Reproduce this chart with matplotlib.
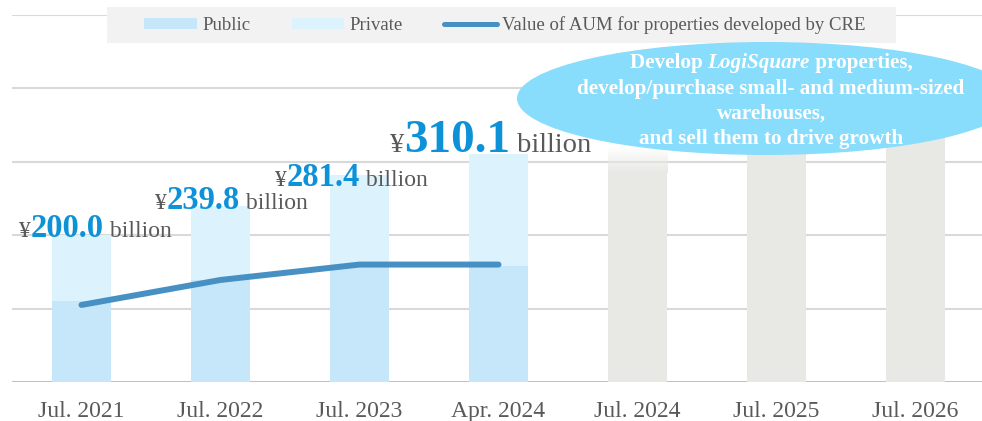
"""
CRE AUM growth chart: public / private split, AUM line and future target bars.
Output: out.png
"""

import numpy as np
import matplotlib
matplotlib.use("Agg")
import matplotlib.pyplot as plt
from matplotlib.patches import Patch, Ellipse, Rectangle
from matplotlib.lines import Line2D
from matplotlib.transforms import IdentityTransform

# ---- data (billion yen) ----
categories = ["Jul. 2021", "Jul. 2022", "Jul. 2023", "Apr. 2024",
              "Jul. 2024", "Jul. 2025", "Jul. 2026"]
total_aum = [200.0, 239.8, 281.4, 310.1]
public_aum = [110, 139, 160, 158]
cre_dev_aum = [105, 139, 160, 160]
future_target = [320, 360, 400]          # tops hidden under the balloon, estimated
label_numbers = ["200.0", "239.8", "281.4", "310.1"]

# ---- style ----
SERIF = ["Liberation Serif", "DejaVu Serif"]
C_PUBLIC = "#C6E7FA"
C_PRIVATE = "#DCF2FD"
C_LINE = "#4690C4"
C_FUTURE = "#E8E8E4"
C_BALLOON = "#88DCFC"
C_BLUE = "#0D92D8"
C_GRAY = "#595959"

W, H, DPI = 982, 421, 100


def draw_runs(fig, renderer, x_center, y_base, runs, zorder=6):
    """Put several text pieces next to each other on one baseline (pixels)."""
    texts = []
    for s, kw in runs:
        t = fig.text(0, 0, s, transform=IdentityTransform(), va="baseline",
                     ha="left", family=SERIF, zorder=zorder, **kw)
        texts.append(t)
    widths = [t.get_window_extent(renderer).width for t in texts]
    x = x_center - sum(widths) / 2
    for t, w in zip(texts, widths):
        t.set_position((x, y_base))
        x += w
    return texts


fig = plt.figure(figsize=(W / DPI, H / DPI), dpi=DPI)
ax = fig.add_axes([12 / W, 39 / H, 973 / W, 367 / H])

x = np.arange(len(categories))
n_act = len(total_aum)
private_aum = [t - p for t, p in zip(total_aum, public_aum)]
bw = 0.43

ax.bar(x[:n_act], public_aum, bw, color=C_PUBLIC, zorder=2)
ax.bar(x[:n_act], private_aum, bw, bottom=public_aum, color=C_PRIVATE, zorder=2)

# future bars with a soft fade at the top
fade = 35
for xi, val in zip(x[n_act:], future_target):
    ax.bar(xi, val - fade, bw, color=C_FUTURE, zorder=2)
    grad = np.zeros((50, 1, 4))
    grad[..., :3] = matplotlib.colors.to_rgb(C_FUTURE)
    grad[:, 0, 3] = np.linspace(0, 1, 50)
    ax.imshow(grad, extent=(xi - bw / 2, xi + bw / 2, val - fade, val),
              origin="upper", aspect="auto", zorder=2, interpolation="bilinear")

ax.plot(x[:n_act], cre_dev_aum, color=C_LINE, lw=4.3,
        solid_capstyle="round", solid_joinstyle="round", zorder=3)

ax.set_xlim(-0.5, 6.5)
ax.set_ylim(0, 500)
ax.set_yticks(range(0, 501, 100))
ax.yaxis.grid(True, color="#D9D9D9", lw=1.5, zorder=0)
ax.set_axisbelow(True)
ax.axhline(0, color="#BFBFBF", lw=2, zorder=1)
for sp in ax.spines.values():
    sp.set_visible(False)
ax.tick_params(axis="y", length=0, labelleft=False)
ax.set_xticks(x)
ax.set_xticklabels(categories, family=SERIF, fontsize=17, color=C_GRAY)
ax.tick_params(axis="x", length=0, pad=14)

# legend: grey band behind a frameless legend
fig.add_artist(Rectangle((107, H - 43), 789, 36, transform=IdentityTransform(),
                         facecolor="#F2F2F2", edgecolor="none", zorder=4))
handles = [Patch(facecolor=C_PUBLIC, edgecolor="none"),
           Patch(facecolor=C_PRIVATE, edgecolor="none"),
           Line2D([0], [0], color=C_LINE, lw=3.6, solid_capstyle="round")]
leg = fig.legend(handles, ["Public", "Private",
                           "Value of AUM for properties developed by CRE"],
                 loc="center", bbox_to_anchor=(505 / W, (H - 25) / H),
                 ncol=3, frameon=False, labelcolor=C_GRAY,
                 prop={"family": SERIF, "size": 13.5},
                 handlelength=2.8, handleheight=0.55, handletextpad=0.3,
                 columnspacing=2.2, borderpad=0.3, borderaxespad=0)
leg.set_zorder(5)

fig.canvas.draw()
renderer = fig.canvas.get_renderer()

# value labels
label_dx = [14, 11, -8, -8]      # pixel nudges from bar centre
label_dy = [-2, -3, -11, 2]
for i, num in enumerate(label_numbers):
    big = i == n_act - 1
    small_fs = 20.5 if big else 17
    num_fs = 34 if big else 23.5
    px, py = ax.transData.transform((x[i], total_aum[i]))
    draw_runs(fig, renderer, px + label_dx[i], py + label_dy[i], [
        ("¥", dict(fontsize=small_fs, color=C_GRAY)),
        (num, dict(fontsize=num_fs, color=C_BLUE, weight="bold")),
        (" billion", dict(fontsize=small_fs, color=C_GRAY)),
    ])

# balloon
ell = Ellipse((766, H - 98.5), 498, 113, transform=IdentityTransform(),
              facecolor=C_BALLOON, edgecolor="none", zorder=7)
fig.add_artist(ell)
bal_kw = dict(fontsize=15.2, color="white", weight="bold")
draw_runs(fig, renderer, 771, H - 68, [
    ("Develop ", bal_kw),
    ("LogiSquare", dict(bal_kw, style="italic")),
    (" properties,", bal_kw),
], zorder=8)
for yy, line in [(94, "develop/purchase small- and medium-sized"),
                 (119, "warehouses,"),
                 (144, "and sell them to drive growth")]:
    draw_runs(fig, renderer, 771, H - yy, [(line, bal_kw)], zorder=8)

fig.savefig("out.png", dpi=DPI)
